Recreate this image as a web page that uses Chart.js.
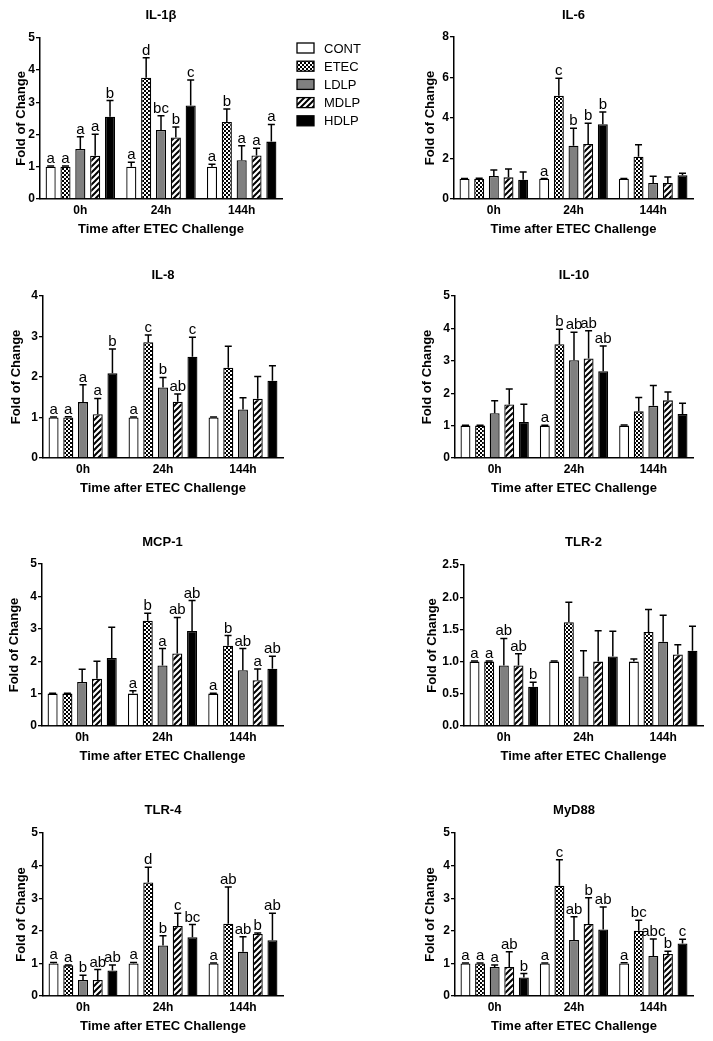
<!DOCTYPE html>
<html>
<head>
<meta charset="utf-8">
<script src="https://cdn.jsdelivr.net/npm/chart.js@4.4.1/dist/chart.umd.min.js"></script>
<style>
body { margin: 0; background: #fff; }
#wrap { position: relative; width: 713px; height: 1041px; }
#wrap canvas { position: absolute; }
</style>
</head>
<body>
<div id="wrap"></div>
<script>
// categories and groups
const timePoints = ['0h', '24h', '144h'];
const groupNames = ['CONT', 'ETEC', 'LDLP', 'MDLP', 'HDLP'];

// each array: one row per group (CONT, ETEC, LDLP, MDLP, HDLP), one value per time point
const il1bMean = [[1.0, 1.0, 1.0], [1.0, 3.76, 2.39], [1.55, 2.14, 1.2], [1.34, 1.91, 1.35], [2.55, 2.9, 1.78]];
const il1bSem = [[0.02, 0.14, 0.08], [0.02, 0.62, 0.4], [0.38, 0.44, 0.45], [0.67, 0.32, 0.22], [0.5, 0.79, 0.53]];
const il1bLetters = [['a', 'a', 'a'], ['a', 'd', 'b'], ['a', 'bc', 'a'], ['a', 'b', 'a'], ['b', 'c', 'a']];

const il6Mean = [[1.0, 1.0, 1.0], [1.0, 5.1, 2.09], [1.14, 2.63, 0.79], [1.07, 2.72, 0.79], [0.95, 3.69, 1.17]];
const il6Sem = [[0.01, 0.01, 0.01], [0.03, 0.86, 0.59], [0.29, 0.87, 0.33], [0.41, 1.02, 0.3], [0.38, 0.61, 0.1]];
const il6Letters = [['', 'a', ''], ['', 'c', ''], ['', 'b', ''], ['', 'b', ''], ['', 'b', '']];

const il8Mean = [[1.0, 1.0, 1.0], [1.0, 2.86, 2.23], [1.38, 1.74, 1.2], [1.08, 1.39, 1.46], [2.09, 2.5, 1.91]];
const il8Sem = [[0.01, 0.01, 0.01], [0.02, 0.18, 0.53], [0.43, 0.25, 0.29], [0.39, 0.19, 0.55], [0.6, 0.48, 0.37]];
const il8Letters = [['a', 'a', ''], ['a', 'c', ''], ['a', 'b', ''], ['a', 'ab', ''], ['b', 'c', '']];

const il10Mean = [[1.0, 1.0, 1.0], [1.0, 3.51, 1.44], [1.38, 3.02, 1.61], [1.65, 3.07, 1.78], [1.11, 2.68, 1.36]];
const il10Sem = [[0.01, 0.01, 0.02], [0.01, 0.46, 0.43], [0.39, 0.86, 0.63], [0.48, 0.86, 0.26], [0.55, 0.78, 0.33]];
const il10Letters = [['', 'a', ''], ['', 'b', ''], ['', 'ab', ''], ['', 'ab', ''], ['', 'ab', '']];

const mcp1Mean = [[1.0, 1.0, 1.0], [1.0, 3.25, 2.48], [1.36, 1.87, 1.72], [1.46, 2.24, 1.41], [2.1, 2.93, 1.77]];
const mcp1Sem = [[0.01, 0.09, 0.01], [0.01, 0.23, 0.31], [0.39, 0.52, 0.67], [0.54, 1.11, 0.35], [0.95, 0.94, 0.38]];
const mcp1Letters = [['', 'a', 'a'], ['', 'b', 'b'], ['', 'a', 'ab'], ['', 'ab', 'a'], ['', 'ab', 'ab']];

const tlr2Mean = [[1.0, 1.0, 1.0], [1.0, 1.61, 1.46], [0.94, 0.77, 1.31], [0.94, 1.0, 1.11], [0.61, 1.08, 1.17]];
const tlr2Sem = [[0.01, 0.01, 0.04], [0.01, 0.31, 0.35], [0.42, 0.4, 0.41], [0.18, 0.48, 0.15], [0.07, 0.39, 0.38]];
const tlr2Letters = [['a', '', ''], ['a', '', ''], ['ab', '', ''], ['ab', '', ''], ['b', '', '']];

const tlr4Mean = [[1.0, 1.0, 1.0], [0.94, 3.48, 2.22], [0.49, 1.55, 1.36], [0.49, 2.15, 1.9], [0.78, 1.8, 1.71]];
const tlr4Sem = [[0.03, 0.03, 0.01], [0.01, 0.47, 1.12], [0.15, 0.3, 0.46], [0.32, 0.39, 0.03], [0.17, 0.39, 0.83]];
const tlr4Letters = [['a', 'a', 'a'], ['a', 'd', 'ab'], ['b', 'b', 'ab'], ['ab', 'c', 'b'], ['ab', 'bc', 'ab']];

const myd88Mean = [[1.0, 1.0, 1.0], [1.0, 3.38, 2.0], [0.89, 1.72, 1.23], [0.89, 2.21, 1.29], [0.57, 2.04, 1.61]];
const myd88Sem = [[0.01, 0.01, 0.02], [0.01, 0.8, 0.32], [0.06, 0.71, 0.52], [0.47, 0.8, 0.08], [0.12, 0.69, 0.13]];
const myd88Letters = [['a', 'a', 'a'], ['a', 'c', 'bc'], ['a', 'ab', 'abc'], ['ab', 'b', 'b'], ['b', 'ab', 'c']];

Chart.defaults.font.family = '"Liberation Sans", Arial, sans-serif';
Chart.defaults.color = '#000';

// bar fills
function checker() {
  const c = document.createElement('canvas');
  c.width = 4; c.height = 4;
  const g = c.getContext('2d');
  g.fillStyle = '#000'; g.fillRect(0, 0, 4, 4);
  g.fillStyle = '#fff'; g.fillRect(0, 0, 2, 2); g.fillRect(2, 2, 2, 2);
  return g.createPattern(c, 'repeat');
}
function hatch() {
  const c = document.createElement('canvas');
  c.width = 6; c.height = 6;
  const g = c.getContext('2d');
  g.fillStyle = '#fff'; g.fillRect(0, 0, 6, 6);
  g.strokeStyle = '#000'; g.lineWidth = 2;
  g.beginPath();
  g.moveTo(-1, 7); g.lineTo(7, -1);
  g.moveTo(-1, 1); g.lineTo(1, -1);
  g.moveTo(5, 7); g.lineTo(7, 5);
  g.stroke();
  return g.createPattern(c, 'repeat');
}
const fills = ['#fff', checker(), '#808080', hatch(), '#000'];

// error bars + letters
const errorBars = {
  id: 'errorBars',
  afterDatasetsDraw(chart) {
    const ctx = chart.ctx, y = chart.scales.y;
    ctx.save();
    chart.data.datasets.forEach((ds, i) => {
      chart.getDatasetMeta(i).data.forEach((bar, j) => {
        const top = y.getPixelForValue(ds.data[j] + ds.sem[j]);
        ctx.strokeStyle = '#000';
        ctx.lineWidth = 1.5;
        ctx.beginPath();
        ctx.moveTo(bar.x, bar.y);
        ctx.lineTo(bar.x, top);
        ctx.moveTo(bar.x - 3.5, top);
        ctx.lineTo(bar.x + 3.5, top);
        ctx.stroke();
        if (ds.letters[j]) {
          ctx.fillStyle = '#000';
          ctx.font = '15px "Liberation Sans", Arial, sans-serif';
          ctx.textAlign = 'center';
          ctx.textBaseline = 'alphabetic';
          ctx.fillText(ds.letters[j], bar.x, top - 3);
        }
      });
    });
    ctx.restore();
  }
};

// panel title and (optional) legend
const decor = {
  id: 'decor',
  afterDraw(chart, args, opts) {
    const ctx = chart.ctx, a = chart.chartArea;
    ctx.save();
    ctx.fillStyle = '#000';
    ctx.font = 'bold 13px "Liberation Sans", Arial, sans-serif';
    ctx.textAlign = 'center';
    ctx.textBaseline = 'middle';
    ctx.fillText(opts.title, (a.left + a.right) / 2, opts.titleY);
    if (opts.legend) {
      ctx.font = '13px "Liberation Sans", Arial, sans-serif';
      ctx.textAlign = 'left';
      chart.data.datasets.forEach((ds, i) => {
        const cy = opts.legend.y + i * 18.2;
        ctx.fillStyle = ds.backgroundColor;
        ctx.fillRect(opts.legend.x, cy - 5, 17, 10);
        ctx.strokeStyle = '#000';
        ctx.lineWidth = 1.3;
        ctx.strokeRect(opts.legend.x, cy - 5, 17, 10);
        ctx.fillStyle = '#000';
        ctx.fillText(ds.label, opts.legend.x + 27, cy + 1);
      });
    }
    ctx.restore();
  }
};

const panels = [
  { title: 'IL-1β', mean: il1bMean, sem: il1bSem, letters: il1bLetters, max: 5, step: 1,
    L: 0, T: 0, W: 400, H: 250, x0: 40, x1: 282, yt: 37.7, yb: 199, titleY: 15, ytx: 21, legend: { x: 297, y: 48 } },
  { title: 'IL-6', mean: il6Mean, sem: il6Sem, letters: il6Letters, max: 8, step: 2,
    L: 400, T: 0, W: 313, H: 250, x0: 454, x1: 693, yt: 37, yb: 199, titleY: 15, ytx: 430 },
  { title: 'IL-8', mean: il8Mean, sem: il8Sem, letters: il8Letters, max: 4, step: 1,
    L: 0, T: 250, W: 400, H: 265, x0: 43, x1: 283, yt: 296, yb: 458, titleY: 275, ytx: 16 },
  { title: 'IL-10', mean: il10Mean, sem: il10Sem, letters: il10Letters, max: 5, step: 1,
    L: 400, T: 250, W: 313, H: 265, x0: 455, x1: 693, yt: 296, yb: 458, titleY: 275, ytx: 427 },
  { title: 'MCP-1', mean: mcp1Mean, sem: mcp1Sem, letters: mcp1Letters, max: 5, step: 1,
    L: 0, T: 515, W: 400, H: 265, x0: 42, x1: 283, yt: 564, yb: 726, titleY: 542, ytx: 14 },
  { title: 'TLR-2', mean: tlr2Mean, sem: tlr2Sem, letters: tlr2Letters, max: 2.5, step: 0.5, fixed: 1,
    L: 400, T: 515, W: 313, H: 265, x0: 464, x1: 703, yt: 565, yb: 726, titleY: 542, ytx: 432 },
  { title: 'TLR-4', mean: tlr4Mean, sem: tlr4Sem, letters: tlr4Letters, max: 5, step: 1,
    L: 0, T: 780, W: 400, H: 261, x0: 43, x1: 283, yt: 833, yb: 996, titleY: 810, ytx: 21 },
  { title: 'MyD88', mean: myd88Mean, sem: myd88Sem, letters: myd88Letters, max: 5, step: 1,
    L: 400, T: 780, W: 313, H: 261, x0: 455, x1: 693, yt: 833, yb: 996, titleY: 810, ytx: 430 }
];

const wrap = document.getElementById('wrap');
const xH = 38.3;

panels.forEach(p => {
  const cv = document.createElement('canvas');
  cv.width = p.W; cv.height = p.H;
  cv.style.left = p.L + 'px'; cv.style.top = p.T + 'px';
  cv.style.width = p.W + 'px'; cv.style.height = p.H + 'px';
  wrap.appendChild(cv);

  const padL = p.ytx - p.L - 7.8;
  const yW = p.x0 - p.L - padL;

  new Chart(cv, {
    type: 'bar',
    data: {
      labels: timePoints,
      datasets: groupNames.map((g, i) => ({
        label: g,
        data: p.mean[i],
        sem: p.sem[i],
        letters: p.letters[i],
        backgroundColor: fills[i],
        borderColor: '#000',
        borderWidth: 1.3,
        categoryPercentage: 0.92,
        barPercentage: 0.68
      }))
    },
    options: {
      responsive: false,
      animation: false,
      layout: { padding: { left: padL, top: p.yt - p.T, right: p.L + p.W - p.x1, bottom: p.T + p.H - p.yb - xH } },
      plugins: {
        legend: { display: false },
        tooltip: { enabled: false },
        decor: { title: p.title, titleY: p.titleY - p.T, legend: p.legend ? { x: p.legend.x - p.L, y: p.legend.y - p.T } : null }
      },
      scales: {
        x: {
          ticks: { font: { size: 12, weight: 'bold' }, color: '#000', padding: 4, maxRotation: 0 },
          grid: { display: false, drawTicks: false },
          border: { color: '#000', width: 1.5 },
          title: { display: true, text: 'Time after ETEC Challenge', font: { size: 13, weight: 'bold' }, color: '#000', padding: 0 },
          afterFit(s) { s.height = xH; }
        },
        y: {
          min: 0, max: p.max,
          ticks: {
            stepSize: p.step, font: { size: 12, weight: 'bold' }, color: '#000', padding: 1,
            callback: v => p.fixed ? v.toFixed(p.fixed) : v
          },
          grid: { drawOnChartArea: false, drawTicks: true, tickLength: 4, color: '#000', lineWidth: 1.3 },
          border: { color: '#000', width: 1.5 },
          title: { display: true, text: 'Fold of Change', font: { size: 13, weight: 'bold' }, color: '#000', padding: 0 },
          afterFit(s) { s.width = yW; }
        }
      }
    },
    plugins: [errorBars, decor]
  });
});
</script>
</body>
</html>
